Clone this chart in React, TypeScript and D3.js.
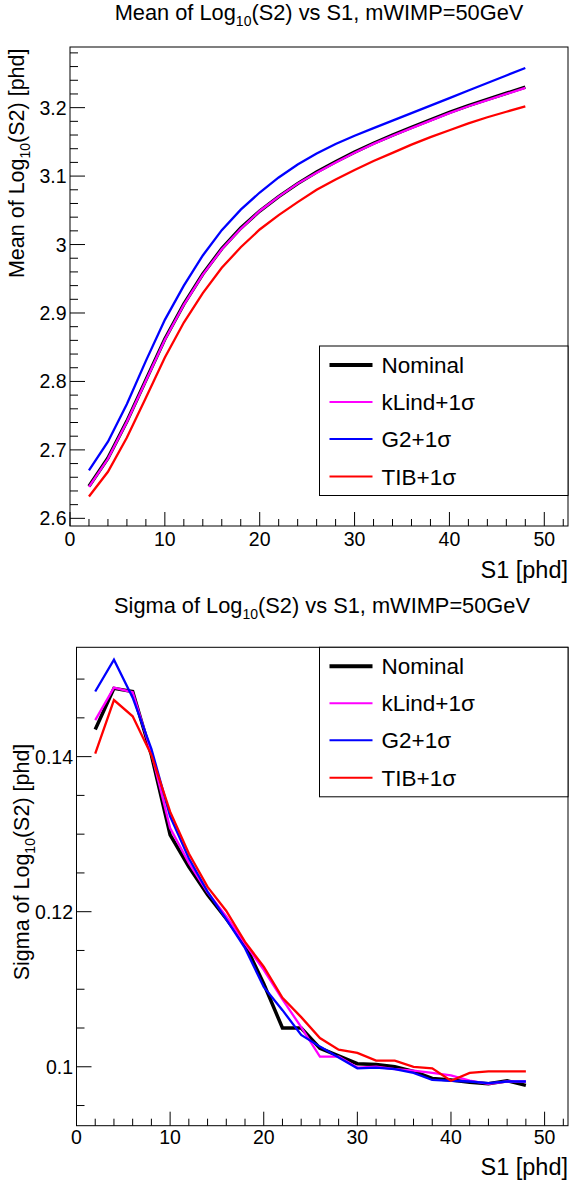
import React from "react";
import * as d3 from "d3";

// ---------- data ----------
const s1 = [2, 4, 6, 8, 10, 12, 14, 16, 18, 20, 22, 24, 26, 28, 30, 32, 34, 36, 38, 40, 42, 44, 46, 48];

const meanNominal = [2.647, 2.688, 2.742, 2.802, 2.862, 2.913, 2.957, 2.994, 3.024, 3.049, 3.070, 3.089, 3.106, 3.121, 3.135, 3.148, 3.160, 3.171, 3.182, 3.193, 3.203, 3.212, 3.221, 3.230];
const meanKLind = [2.646, 2.687, 2.741, 2.801, 2.861, 2.912, 2.956, 2.993, 3.023, 3.049, 3.070, 3.089, 3.105, 3.120, 3.134, 3.147, 3.159, 3.170, 3.181, 3.192, 3.202, 3.211, 3.220, 3.229];
const meanG2 = [2.670, 2.712, 2.767, 2.830, 2.890, 2.940, 2.984, 3.021, 3.051, 3.076, 3.098, 3.117, 3.133, 3.147, 3.159, 3.170, 3.181, 3.192, 3.203, 3.214, 3.225, 3.236, 3.247, 3.258];
const meanTIB = [2.632, 2.668, 2.718, 2.776, 2.835, 2.886, 2.929, 2.966, 2.996, 3.022, 3.043, 3.062, 3.080, 3.095, 3.109, 3.122, 3.134, 3.146, 3.157, 3.167, 3.177, 3.186, 3.194, 3.202];

const sigmaNominal = [0.1435, 0.1488, 0.1484, 0.1402, 0.1299, 0.1258, 0.1222, 0.1191, 0.1158, 0.1107, 0.1050, 0.1050, 0.1024, 0.1014, 0.1004, 0.1003, 0.1000, 0.0994, 0.0985, 0.0983, 0.0980, 0.0978, 0.0982, 0.0976];
const sigmaKLind = [0.1447, 0.1489, 0.1483, 0.1405, 0.1308, 0.1263, 0.1225, 0.1194, 0.1159, 0.1125, 0.1087, 0.1051, 0.1013, 0.1013, 0.0999, 0.1000, 0.0997, 0.0995, 0.0992, 0.0989, 0.0982, 0.0978, 0.0981, 0.0981];
const sigmaG2 = [0.1484, 0.1525, 0.1476, 0.1410, 0.1323, 0.1269, 0.1226, 0.1190, 0.1153, 0.1103, 0.1073, 0.1041, 0.1026, 0.1012, 0.0998, 0.0999, 0.0997, 0.0992, 0.0983, 0.0982, 0.0981, 0.0979, 0.0981, 0.0981];
const sigmaTIB = [0.1404, 0.1473, 0.1452, 0.1402, 0.1329, 0.1275, 0.1232, 0.1201, 0.1161, 0.1129, 0.1089, 0.1064, 0.1037, 0.1022, 0.1018, 0.1008, 0.1008, 0.1000, 0.0998, 0.0982, 0.0992, 0.0994, 0.0994, 0.0994];

const seriesNames = ["Nominal", "kLind+1σ", "G2+1σ", "TIB+1σ"];
const seriesColors = ["#000000", "#ff00ff", "#0000ff", "#ff0000"];
const seriesWidths = [3.5, 2.3, 2.3, 2.3];

const xTicks = [0, 10, 20, 30, 40, 50];
const meanYTicks = [2.6, 2.7, 2.8, 2.9, 3.0, 3.1, 3.2];
const meanYLabels = ["2.6", "2.7", "2.8", "2.9", "3", "3.1", "3.2"];
const sigmaYTicks = [0.1, 0.12, 0.14];
const sigmaYLabels = ["0.1", "0.12", "0.14"];

const FONT = "'Liberation Sans', Arial, Helvetica, sans-serif";

type ChartProps = {
  top: number;
  frame: { x0: number; x1: number; y0: number; y1: number };
  yDomain: [number, number];
  yMinorStep: number;
  yTicks: number[];
  yLabels: string[];
  series: number[][];
  titlePrefix: string;
  yTitlePrefix: string;
  titleX: number;
  yTitle: { x: number; y: number; anchor: string };
  xLabelBaseline: number;
  xTitleBaseline: number;
  legendTop: number;
};

function Chart(p: ChartProps) {
  const { frame } = p;
  const x = d3.scaleLinear().domain([0, 52.5]).range([frame.x0, frame.x1]);
  const y = d3.scaleLinear().domain(p.yDomain).range([frame.y1, frame.y0]);
  const line = (vals: number[]) =>
    d3.line<number>().x((_, i) => x(s1[i])).y((v) => y(v))(vals) || "";
  const xMinor = d3.range(0, 52.5, 2).filter((v) => v % 10 !== 0);
  const yMinor = d3
    .range(Math.ceil(p.yDomain[0] / p.yMinorStep) * p.yMinorStep, p.yDomain[1], p.yMinorStep)
    .filter((v) => !p.yTicks.some((t) => Math.abs(t - v) < 1e-6));

  const rows = [19, 56, 93, 130.5];
  const lg = { x0: 319.5, x1: 568, y0: p.legendTop, y1: p.legendTop + 149.5 };

  return (
    <g transform={`translate(0,${p.top})`} fontFamily={FONT}>
      <text x={p.titleX} y={20} textAnchor="middle" fontSize={21.8} fill="#000">
        {p.titlePrefix} of Log
        <tspan fontSize={14} dy={6}>10</tspan>
        <tspan dy={-6}>(S2) vs S1, mWIMP=50GeV</tspan>
      </text>

      <g>
        {p.series.map((vals, i) => (
          <path
            key={i}
            d={line(vals)}
            fill="none"
            stroke={seriesColors[i]}
            strokeWidth={seriesWidths[i]}
            strokeLinejoin="miter"
          />
        ))}
      </g>

      <rect
        x={frame.x0}
        y={frame.y0}
        width={frame.x1 - frame.x0}
        height={frame.y1 - frame.y0}
        fill="none"
        stroke="#000"
        strokeWidth={1}
      />

      {xTicks.map((t) => (
        <g key={"xt" + t}>
          <line x1={x(t)} x2={x(t)} y1={frame.y1} y2={frame.y1 - 14} stroke="#000" strokeWidth={1} />
          <text x={x(t)} y={p.xLabelBaseline} textAnchor="middle" fontSize={19.5}>
            {t}
          </text>
        </g>
      ))}
      {xMinor.map((t) => (
        <line key={"xm" + t} x1={x(t)} x2={x(t)} y1={frame.y1} y2={frame.y1 - 7} stroke="#000" strokeWidth={1} />
      ))}

      {p.yTicks.map((t, i) => (
        <g key={"yt" + t}>
          <line x1={frame.x0} x2={frame.x0 + 15} y1={y(t)} y2={y(t)} stroke="#000" strokeWidth={1} />
          <text x={frame.x0 - 3.5} y={y(t) + 7} textAnchor="end" fontSize={19.5}>
            {p.yLabels[i]}
          </text>
        </g>
      ))}
      {yMinor.map((t) => (
        <line key={"ym" + t} x1={frame.x0} x2={frame.x0 + 8} y1={y(t)} y2={y(t)} stroke="#000" strokeWidth={1} />
      ))}

      <text x={frame.x1} y={p.xTitleBaseline} textAnchor="end" fontSize={23.5}>
        S1 [phd]
      </text>
      <text
        transform={`translate(${p.yTitle.x},${p.yTitle.y}) rotate(-90)`}
        textAnchor={p.yTitle.anchor}
        fontSize={21.5}
      >
        {p.yTitlePrefix} of Log
        <tspan fontSize={14} dy={6}>10</tspan>
        <tspan dy={-6}>(S2) [phd]</tspan>
      </text>

      <rect x={lg.x0} y={lg.y0} width={lg.x1 - lg.x0} height={lg.y1 - lg.y0} fill="#fff" stroke="#000" strokeWidth={1} />
      {seriesNames.map((name, i) => (
        <g key={name}>
          <line
            x1={329.5}
            x2={372.5}
            y1={lg.y0 + rows[i]}
            y2={lg.y0 + rows[i]}
            stroke={seriesColors[i]}
            strokeWidth={i === 0 ? 4 : 2}
          />
          <text x={381.5} y={lg.y0 + rows[i] + 8} fontSize={22.5}>
            {name}
          </text>
        </g>
      ))}
    </g>
  );
}

export default function App() {
  return (
    <svg
      width={569}
      height={1186}
      style={{ position: "absolute", left: 0, top: 0, background: "#fff" }}
    >
      <rect width={569} height={1186} fill="#fff" />
      <Chart
        top={0}
        frame={{ x0: 70, x1: 568, y0: 47, y1: 526 }}
        yDomain={[2.5888, 3.2886]}
        yMinorStep={0.02}
        yTicks={meanYTicks}
        yLabels={meanYLabels}
        series={[meanNominal, meanKLind, meanG2, meanTIB]}
        titlePrefix="Mean"
        yTitlePrefix="Mean"
        titleX={319}
        yTitle={{ x: 24, y: 48.5, anchor: "end" }}
        xLabelBaseline={546}
        xTitleBaseline={578}
        legendTop={346}
      />
      <Chart
        top={593}
        frame={{ x0: 76.5, x1: 568, y0: 54.3, y1: 532.7 }}
        yDomain={[0.0924, 0.1541]}
        yMinorStep={0.005}
        yTicks={sigmaYTicks}
        yLabels={sigmaYLabels}
        series={[sigmaNominal, sigmaKLind, sigmaG2, sigmaTIB]}
        titlePrefix="Sigma"
        yTitlePrefix="Sigma"
        titleX={322}
        yTitle={{ x: 29, y: 269, anchor: "middle" }}
        xLabelBaseline={550.5}
        xTitleBaseline={582}
        legendTop={54.3}
      />
    </svg>
  );
}
